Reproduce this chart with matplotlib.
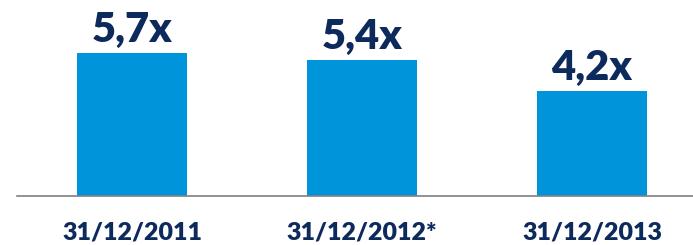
import matplotlib.pyplot as plt

categories = ['31/12/2011', '31/12/2012*', '31/12/2013']
values = [5.7, 5.4, 4.2]
labels = ['5,7x', '5,4x', '4,2x']

bar_color = '#0095DA'
text_color = '#0D2A5C'

fig = plt.figure(figsize=(6.93, 2.45), dpi=100)
# axes placed in pixel terms: left 17px, bottom 49px, to right/top edge
ax = fig.add_axes([17 / 693, 49 / 245, 676 / 693, 196 / 245])

x = range(len(categories))
ax.bar(x, values, width=0.478, color=bar_color)

for i, (v, lab) in enumerate(zip(values, labels)):
    ax.annotate(lab, (i, v), xytext=(0, 8), textcoords='offset points',
                ha='center', va='baseline', fontsize=30, fontweight='heavy',
                family='Lato', color=text_color)

ax.set_xlim(-0.5, 2.439)
ax.set_ylim(0, 7.81)
ax.set_xticks(list(x))
ax.set_xticklabels(categories, fontsize=18, fontweight='heavy',
                   family='Lato', color=text_color)
ax.tick_params(axis='x', length=0, pad=18.5)
ax.set_yticks([])
for s in ['top', 'left', 'right']:
    ax.spines[s].set_visible(False)
ax.spines['bottom'].set_color('#808080')
ax.spines['bottom'].set_linewidth(1.2)

fig.savefig('out.png', dpi=100)
